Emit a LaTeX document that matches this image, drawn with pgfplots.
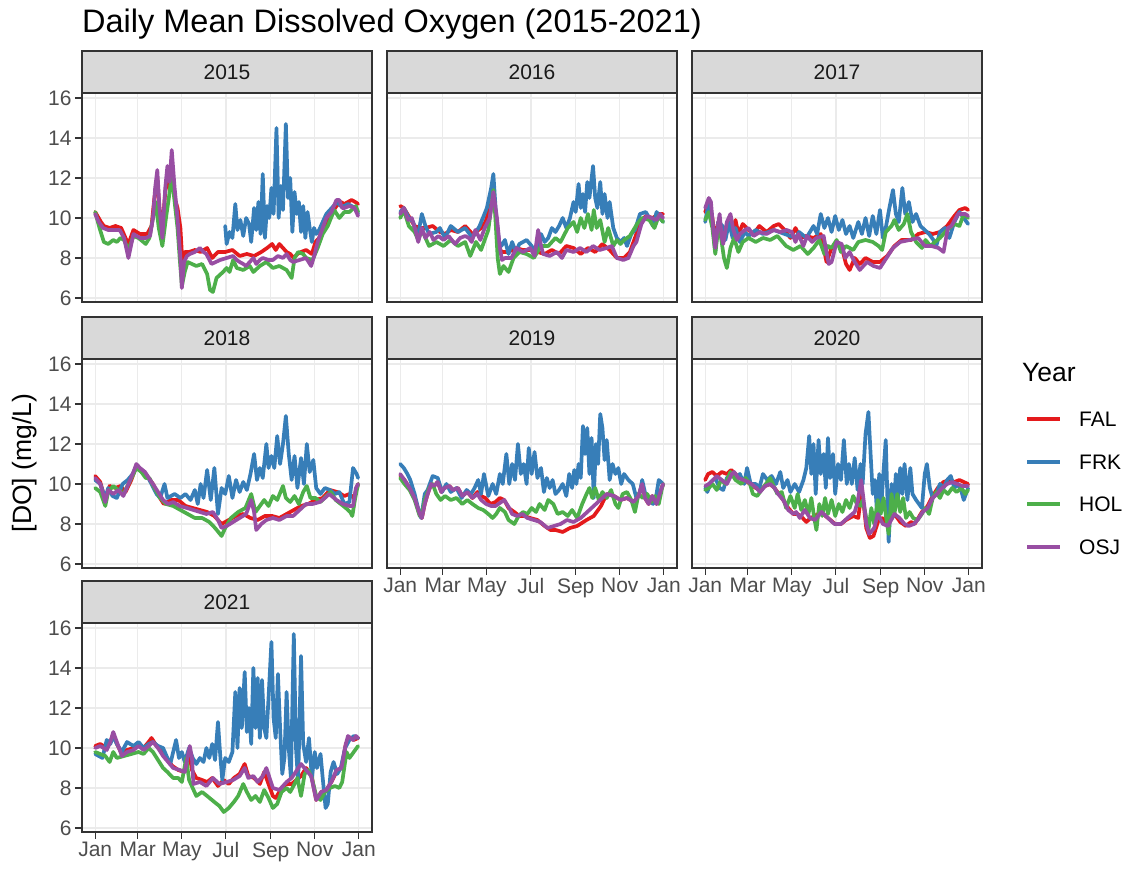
\documentclass[border=0pt]{standalone}
\usepackage{pgfplots}
\pgfplotsset{compat=1.18}
\usepackage{fontspec}
\setmainfont{Liberation Sans}
\definecolor{cFAL}{HTML}{E41A1C}
\definecolor{cFRK}{HTML}{377EB8}
\definecolor{cHOL}{HTML}{4DAF4A}
\definecolor{cOSJ}{HTML}{984EA3}
\definecolor{gtwenty}{HTML}{333333}
\definecolor{gthirty}{HTML}{4D4D4D}
\definecolor{gridg}{HTML}{EBEBEB}
\definecolor{stripg}{HTML}{D9D9D9}
\definecolor{txt}{HTML}{1A1A1A}
\pgfplotsset{
 panel/.style={
  scale only axis, width=290pt, height=209pt,
  xmin=-18.25, xmax=383.25, ymin=5.8, ymax=16.25,
  anchor=north west,
  axis line style={draw=gtwenty, line width=1.1pt},
  grid=major, major grid style={draw=gridg, line width=1.2pt},
  xtick={0,59,120,181,243,304,365}, ytick={6,8,10,12,14,16},
  xtick pos=left, ytick pos=left,
  tick align=outside, major tick length=7pt,
  tick style={draw=gtwenty, line width=1.1pt},
  tick label style={font=\fontsize{21}{21}\selectfont, text=gthirty},
  /pgf/number format/assume math mode=true,
  every axis plot/.append style={line width=3.7pt, line join=round, line cap=round, mark=none},
 },
 noxlab/.style={xticklabels={}, xtick style={draw=none}},
 noylab/.style={yticklabels={}, ytick style={draw=none}},
 xlab/.style={xticklabels={Jan,Mar,May,Jul,Sep,Nov,Jan}},
}
\newcommand{\strip}[3]{%
 \draw[fill=stripg, draw=gtwenty, line width=1.1pt] (#1pt,#2pt) rectangle ++(290pt,42pt);
 \node[font=\fontsize{21}{21}\selectfont, text=txt, inner sep=0] at ([xshift=145pt,yshift=21pt]#1pt,#2pt) {#3};}
\begin{document}
\begin{tikzpicture}[x=1pt,y=1pt]
\useasboundingbox (0,0) rectangle (1128,869);
% ---------------- 2015
\begin{axis}[panel, noxlab, at={(82pt,776pt)}]
\addplot[cFAL] coordinates {(0,10.3)(8,9.8)(12,9.6)(20,9.5)(28,9.6)(36,9.5)(42,9.0)(46,8.7)(53,9.4)(62,9.2)(72,9.2)(78,9.6)(82,11.0)(86,12.0)(89,10.5)(93,9.4)(97,11.3)(100,12.0)(103,11.5)(106,12.5)(110,11.0)(114,10.5)(118,9.5)(121,7.6)(124,8.3)(130,8.3)(138,8.4)(146,8.3)(155,8.5)(162,8.0)(170,8.3)(180,8.3)(190,8.4)(200,8.1)(210,8.2)(220,8.1)(230,8.3)(238,8.5)(245,8.7)(250,8.4)(255,8.7)(260,8.5)(265,8.3)(270,8.2)(275,8.0)(280,8.2)(285,8.3)(292,8.4)(300,8.2)(305,8.8)(310,9.0)(315,9.5)(320,9.8)(327,10.2)(334,10.6)(340,10.8)(345,10.7)(350,10.8)(355,10.9)(360,10.8)(364,10.7)};
\addplot[cFRK] coordinates {(180,9.6)(182,8.7)(186,9.3)(190,9.0)(194,10.7)(197,9.4)(201,9.9)(205,9.1)(209,10.0)(213,9.7)(216,8.8)(220,10.5)(223,9.4)(226,10.8)(229,9.2)(232,12.2)(235,9.0)(238,10.6)(241,10.0)(244,11.5)(247,10.2)(251,14.5)(254,10.0)(257,11.6)(260,10.4)(264,14.7)(267,11.0)(270,12.0)(273,9.3)(276,11.3)(279,10.2)(282,10.8)(285,9.3)(288,10.6)(291,9.0)(294,10.3)(297,9.5)(300,8.8)(303,9.5)(306,9.2)(310,9.4)(315,9.8)(320,10.2)(325,10.4)(330,10.6)(335,10.8)(340,10.6)(345,10.6)(350,10.7)(355,10.6)(360,10.5)(364,10.2)};
\addplot[cHOL] coordinates {(0,10.3)(6,9.5)(12,8.8)(18,8.7)(25,8.9)(30,8.8)(35,9.0)(40,8.9)(46,8.4)(53,9.1)(60,9.0)(70,8.7)(75,9.0)(80,10.0)(84,10.8)(88,9.5)(93,8.6)(98,10.0)(102,11.0)(106,12.2)(110,10.8)(114,9.5)(117,8.0)(120,6.6)(124,7.3)(128,7.8)(134,7.7)(140,7.6)(148,7.7)(155,7.2)(159,6.4)(163,6.3)(168,7.0)(177,7.3)(182,7.5)(186,7.3)(191,7.9)(196,7.5)(205,7.4)(214,7.6)(219,7.3)(228,7.6)(237,7.8)(246,7.5)(255,7.6)(265,7.4)(272,7.0)(276,8.0)(281,8.3)(288,8.2)(292,8.0)(301,7.9)(308,8.5)(315,9.2)(322,9.6)(331,10.4)(338,10.0)(345,10.3)(352,10.3)(361,10.6)(364,10.3)};
\addplot[cOSJ] coordinates {(0,10.2)(5,9.8)(11,9.5)(18,9.4)(25,9.4)(34,9.4)(40,9.0)(46,8.0)(53,9.2)(62,9.0)(70,9.0)(76,9.1)(80,10.0)(83,11.5)(86,12.4)(89,10.5)(93,9.0)(97,11.5)(100,12.6)(103,11.8)(106,13.4)(110,11.5)(114,10.0)(118,8.0)(120,6.5)(123,7.8)(127,8.1)(131,8.2)(138,8.3)(145,8.5)(150,8.3)(154,8.2)(161,7.7)(167,7.8)(173,7.9)(182,8.0)(191,8.1)(196,7.9)(200,7.8)(205,7.7)(209,7.6)(214,7.8)(219,8.0)(223,7.7)(228,7.9)(232,8.0)(240,7.9)(246,7.9)(253,8.1)(260,8.0)(265,8.2)(270,7.9)(274,7.8)(283,7.9)(292,8.0)(299,7.6)(304,8.2)(308,8.8)(315,9.5)(320,10.0)(327,10.3)(334,10.9)(338,10.9)(342,10.5)(345,10.5)(352,10.6)(359,10.5)(364,10.1)};
\end{axis}
% ---------------- 2016
\begin{axis}[panel, noxlab, noylab, at={(387pt,776pt)}]
\addplot[cFAL] coordinates {(0,10.6)(5,10.5)(10,10.2)(20,9.6)(28,9.5)(35,9.5)(45,9.6)(55,9.3)(62,9.2)(70,9.4)(80,9.3)(90,9.6)(95,9.4)(100,9.2)(105,9.3)(112,9.5)(118,9.8)(125,10.6)(129,11.0)(133,10.0)(137,8.6)(140,8.3)(150,8.3)(160,8.5)(170,8.4)(180,8.4)(190,8.3)(200,8.2)(210,8.4)(220,8.2)(230,8.6)(240,8.5)(250,8.2)(260,8.5)(270,8.3)(280,8.7)(290,8.4)(300,8.0)(310,8.0)(318,8.3)(325,9.0)(333,9.8)(340,10.1)(350,10.0)(357,10.2)(364,10.2)};
\addplot[cFRK] coordinates {(0,10.3)(5,10.5)(12,10.0)(18,9.8)(24,9.0)(30,10.2)(35,9.6)(40,9.2)(50,9.3)(55,9.5)(62,9.0)(70,9.6)(80,9.3)(90,9.5)(100,9.0)(110,9.6)(120,10.5)(126,11.5)(129,12.2)(133,10.0)(137,8.8)(140,8.6)(145,8.9)(150,8.2)(155,8.8)(160,8.3)(165,8.7)(170,8.8)(175,8.9)(182,8.6)(188,8.2)(195,9.2)(200,8.8)(205,9.0)(210,9.5)(215,9.3)(220,9.6)(225,10.0)(230,9.5)(235,10.0)(240,10.8)(243,10.3)(247,11.7)(250,10.5)(253,11.2)(256,10.3)(259,11.8)(262,11.0)(267,12.6)(270,11.0)(273,10.5)(277,11.8)(280,10.2)(283,11.2)(287,10.0)(290,10.8)(295,9.5)(300,9.0)(305,8.8)(310,9.0)(314,8.6)(320,9.2)(325,9.4)(332,10.2)(340,10.3)(345,10.0)(350,9.6)(355,10.3)(360,10.0)(364,9.8)};
\addplot[cHOL] coordinates {(0,10.0)(5,10.4)(12,9.6)(20,9.3)(25,8.9)(30,9.4)(35,9.0)(40,8.6)(50,8.8)(60,8.6)(70,8.9)(80,8.6)(90,8.8)(97,8.1)(105,8.8)(112,8.4)(122,9.4)(126,10.5)(129,11.4)(131,10.5)(135,8.0)(138,7.2)(143,7.6)(150,7.3)(157,8.0)(165,8.3)(175,8.2)(185,8.0)(195,8.6)(205,8.6)(215,9.0)(222,8.8)(232,9.5)(240,9.8)(245,9.3)(250,10.0)(255,9.5)(260,10.2)(265,9.4)(268,10.4)(272,9.5)(277,9.9)(283,8.8)(288,9.5)(295,8.6)(300,8.9)(305,8.7)(310,8.9)(318,9.1)(328,9.7)(335,10.0)(345,9.9)(352,9.5)(358,10.1)(364,9.8)};
\addplot[cOSJ] coordinates {(0,10.2)(5,10.5)(11,9.9)(16,10.0)(21,9.4)(25,8.8)(30,9.5)(35,9.0)(41,9.3)(46,8.9)(53,9.1)(60,8.9)(67,9.1)(76,8.7)(83,9.0)(90,9.1)(95,9.0)(99,8.8)(104,9.4)(111,8.9)(117,9.5)(124,10.0)(129,11.3)(134,10.0)(138,8.5)(141,7.9)(145,8.0)(154,8.0)(161,8.5)(170,8.3)(180,8.5)(186,8.1)(191,9.4)(195,8.6)(198,8.2)(207,8.1)(217,8.3)(224,8.0)(230,8.4)(240,8.3)(249,8.5)(258,8.3)(267,8.6)(276,8.4)(286,8.5)(293,8.6)(300,8.0)(309,7.9)(316,8.0)(323,8.6)(327,8.8)(334,9.7)(341,10.1)(348,10.0)(355,9.9)(360,10.2)(364,10.0)};
\end{axis}
% ---------------- 2017
\begin{axis}[panel, noxlab, noylab, at={(692pt,776pt)}]
\addplot[cFAL] coordinates {(0,10.3)(5,10.8)(10,10.0)(14,8.8)(18,9.8)(24,9.3)(30,9.6)(33,9.7)(38,9.3)(42,9.9)(46,9.2)(52,9.7)(60,9.4)(67,9.2)(75,9.6)(85,9.3)(95,9.6)(102,9.7)(110,9.4)(118,9.0)(125,9.5)(132,9.0)(140,9.1)(150,9.0)(160,9.2)(168,7.8)(175,8.5)(182,8.8)(190,8.4)(195,7.7)(200,7.4)(207,8.0)(214,7.7)(222,8.0)(232,7.8)(242,7.8)(252,8.1)(262,8.6)(272,8.9)(285,8.9)(295,9.2)(305,9.3)(315,9.2)(325,9.3)(335,9.6)(345,10.1)(352,10.4)(360,10.5)(364,10.4)};
\addplot[cFRK] coordinates {(0,9.8)(5,10.8)(9,10.2)(14,8.3)(18,9.8)(24,9.6)(28,8.9)(33,9.8)(38,9.0)(42,9.5)(48,8.8)(55,9.3)(60,9.1)(70,9.4)(80,9.2)(95,9.4)(110,9.2)(125,9.0)(130,9.3)(140,9.0)(150,9.6)(155,9.2)(160,10.2)(165,9.5)(170,10.0)(175,9.3)(180,10.1)(185,9.4)(190,9.9)(195,9.2)(200,9.6)(205,9.0)(212,9.8)(217,9.2)(222,10.0)(227,9.1)(232,10.1)(237,9.2)(242,10.4)(246,9.0)(250,9.5)(255,10.5)(260,11.4)(264,10.2)(268,9.8)(273,11.5)(277,10.2)(282,10.8)(287,9.8)(292,10.2)(298,9.6)(304,9.4)(310,9.2)(316,8.9)(320,8.6)(325,9.3)(332,9.5)(338,9.0)(345,9.8)(352,10.3)(358,10.0)(364,9.7)};
\addplot[cHOL] coordinates {(0,9.9)(5,10.3)(10,9.5)(14,8.2)(18,9.5)(22,9.0)(26,8.0)(30,7.5)(35,8.5)(40,9.0)(46,8.3)(52,8.8)(60,9.0)(70,8.8)(80,9.0)(90,8.9)(100,9.1)(112,8.6)(122,8.4)(132,8.6)(142,8.2)(150,8.5)(158,8.9)(165,8.2)(170,8.6)(175,8.5)(182,8.9)(188,8.3)(195,8.6)(205,8.4)(212,8.8)(222,8.9)(232,8.8)(240,8.6)(245,8.4)(250,9.3)(258,9.6)(262,9.9)(268,9.4)(275,9.7)(280,10.2)(285,9.3)(292,8.8)(300,8.5)(305,8.9)(312,8.6)(318,8.8)(325,9.0)(335,9.4)(345,9.7)(352,9.6)(358,10.2)(364,10.0)};
\addplot[cOSJ] coordinates {(0,10.5)(5,11.0)(8,10.8)(11,9.5)(14,8.5)(17,9.5)(20,10.2)(23,9.0)(25,8.7)(30,9.8)(35,10.2)(39,9.4)(44,8.9)(48,9.2)(55,9.4)(60,9.5)(67,9.1)(76,9.3)(85,9.2)(95,9.4)(104,9.3)(113,9.4)(120,9.3)(125,8.8)(129,9.2)(136,8.6)(141,9.1)(148,8.8)(154,9.0)(164,9.1)(171,7.7)(175,7.8)(182,8.8)(189,8.7)(194,8.0)(200,8.3)(207,7.8)(214,7.4)(224,7.8)(233,7.6)(242,7.5)(251,8.0)(260,8.5)(270,8.8)(283,8.9)(295,9.0)(304,8.6)(313,8.6)(323,8.5)(330,8.3)(336,9.5)(341,9.6)(350,10.2)(360,10.2)(364,10.1)};
\end{axis}
% ---------------- 2018
\begin{axis}[panel, noxlab, at={(82pt,510pt)}]
\addplot[cFAL] coordinates {(0,10.4)(7,10.1)(14,9.2)(20,9.9)(28,9.8)(35,9.9)(42,9.6)(50,10.2)(57,10.9)(65,10.6)(72,10.4)(80,10.0)(88,9.4)(95,9.0)(105,9.2)(115,9.2)(125,8.9)(135,8.8)(145,8.7)(155,8.6)(165,8.4)(175,8.0)(185,8.2)(195,8.4)(205,8.5)(215,8.3)(225,8.2)(235,8.4)(245,8.4)(255,8.3)(265,8.5)(275,8.7)(285,8.9)(295,9.0)(305,9.2)(315,9.3)(325,9.7)(335,9.6)(345,9.4)(352,9.5)(358,9.3)(364,10.0)};
\addplot[cFRK] coordinates {(0,10.2)(7,10.0)(14,9.3)(18,9.8)(24,9.4)(30,9.3)(38,10.0)(45,10.2)(52,10.5)(57,10.9)(65,10.6)(72,10.4)(78,10.0)(85,9.5)(90,9.3)(96,10.0)(100,9.3)(110,9.5)(118,9.3)(125,9.5)(132,9.2)(138,9.7)(142,9.0)(146,10.0)(150,9.3)(155,10.7)(160,9.2)(165,10.8)(170,8.5)(175,9.8)(180,9.5)(185,10.4)(190,9.3)(195,10.2)(200,9.6)(205,10.1)(210,9.7)(215,10.5)(220,11.5)(224,10.2)(228,10.8)(232,10.3)(237,12.0)(240,10.8)(244,11.4)(248,10.8)(252,12.4)(256,11.0)(260,12.0)(264,13.4)(268,11.5)(272,10.2)(276,11.4)(280,9.8)(285,11.3)(289,10.0)(293,12.0)(297,10.6)(302,11.2)(306,9.8)(312,9.5)(318,9.8)(325,9.7)(332,9.5)(338,9.6)(345,9.0)(352,9.1)(357,10.8)(362,10.5)(364,10.3)};
\addplot[cHOL] coordinates {(0,9.8)(7,9.6)(14,8.9)(18,9.6)(25,9.9)(32,9.7)(39,9.5)(46,10.0)(53,10.5)(57,10.8)(64,10.6)(70,10.3)(75,10.3)(82,9.8)(90,9.3)(98,9.0)(108,8.9)(118,8.7)(128,8.5)(138,8.3)(148,8.3)(158,8.1)(166,7.8)(175,7.4)(180,7.8)(188,8.3)(198,8.6)(208,8.8)(216,9.5)(222,8.6)(228,8.9)(234,9.2)(240,8.9)(246,9.4)(252,9.2)(260,9.9)(264,9.3)(270,9.1)(276,9.4)(282,9.0)(288,9.6)(293,9.9)(298,9.3)(305,9.3)(312,9.1)(320,9.4)(326,9.6)(333,9.2)(340,9.0)(347,8.8)(353,8.6)(356,8.4)(360,9.3)(364,10.0)};
\addplot[cOSJ] coordinates {(0,10.3)(7,10.0)(14,9.1)(18,9.7)(25,9.5)(32,9.7)(39,9.4)(46,10.0)(53,10.6)(57,11.0)(62,10.8)(69,10.6)(76,10.2)(80,10.0)(87,9.6)(94,9.2)(101,9.0)(108,9.1)(117,8.9)(127,8.8)(136,8.7)(145,8.6)(154,8.5)(163,8.6)(170,8.2)(175,7.8)(182,7.9)(191,8.1)(200,8.3)(209,8.5)(216,9.2)(220,8.6)(223,7.7)(230,8.0)(237,8.2)(246,8.3)(255,8.2)(265,8.4)(274,8.4)(283,8.7)(292,9.0)(301,9.0)(311,9.1)(318,9.3)(324,9.5)(334,9.2)(343,9.0)(352,8.9)(357,8.9)(361,9.8)(364,10.0)};
\end{axis}
% ---------------- 2019
\begin{axis}[panel, xlab, noylab, at={(387pt,510pt)}]
\addplot[cFAL] coordinates {(0,10.4)(6,10.2)(13,9.8)(20,9.3)(27,8.5)(30,8.3)(34,9.0)(38,9.5)(43,10.0)(47,9.9)(52,10.1)(57,9.6)(61,9.8)(68,9.9)(73,9.7)(80,9.8)(86,9.4)(93,9.6)(100,9.3)(107,9.6)(112,9.4)(118,9.3)(125,9.0)(132,9.1)(138,9.3)(144,9.2)(150,8.8)(158,8.6)(165,8.4)(172,8.4)(180,8.3)(190,8.2)(200,7.9)(208,7.7)(215,7.7)(225,7.6)(235,7.8)(245,7.9)(258,8.2)(268,8.4)(278,8.9)(286,9.5)(296,9.4)(305,9.2)(314,9.3)(323,9.1)(330,9.4)(335,10.0)(339,9.3)(344,9.0)(349,9.4)(355,9.0)(362,9.8)(364,10.0)};
\addplot[cFRK] coordinates {(0,11.0)(5,10.8)(10,10.5)(14,10.2)(20,9.5)(26,8.6)(29,8.3)(34,9.5)(38,9.7)(45,10.4)(52,10.3)(58,9.6)(64,10.0)(70,9.6)(78,9.8)(85,9.3)(92,9.7)(98,9.5)(103,9.8)(108,10.2)(112,9.5)(116,10.5)(122,9.4)(128,10.0)(133,9.5)(138,10.5)(142,10.0)(147,11.5)(151,10.0)(155,11.0)(159,10.2)(163,12.0)(167,10.5)(171,11.0)(175,10.0)(178,11.8)(182,10.5)(186,11.6)(190,10.3)(195,10.8)(199,9.6)(203,10.3)(207,9.8)(211,10.2)(215,9.5)(220,9.7)(225,10.0)(230,9.4)(234,10.5)(238,9.8)(241,10.7)(244,10.0)(247,11.0)(250,10.3)(253,12.9)(256,11.5)(259,12.8)(262,10.5)(265,12.3)(268,9.3)(271,12.0)(274,11.0)(277,13.5)(280,12.8)(283,11.2)(286,12.2)(290,10.2)(294,11.0)(298,10.5)(302,10.8)(306,10.0)(310,10.5)(316,10.2)(322,10.0)(327,9.3)(332,9.6)(335,10.2)(340,9.4)(345,9.2)(350,9.0)(354,9.3)(358,10.2)(364,10.0)};
\addplot[cHOL] coordinates {(0,10.3)(6,10.0)(13,9.7)(20,9.2)(27,8.4)(30,8.5)(34,9.2)(40,9.8)(45,10.0)(50,9.5)(56,9.2)(62,9.4)(70,9.2)(78,9.3)(86,9.0)(93,9.2)(100,9.0)(108,8.8)(115,8.7)(122,8.5)(128,8.3)(133,8.5)(138,8.8)(145,8.6)(150,8.2)(158,8.0)(164,8.4)(170,8.6)(176,8.5)(182,8.8)(188,8.6)(193,9.0)(200,8.7)(205,9.2)(212,9.0)(218,8.5)(225,8.6)(232,8.4)(238,8.7)(245,8.3)(252,9.0)(258,9.5)(262,9.8)(266,9.3)(270,9.8)(275,9.2)(280,9.6)(286,9.3)(292,9.7)(298,9.0)(302,8.8)(308,9.5)(314,9.6)(320,9.2)(325,8.6)(330,9.5)(336,9.3)(342,9.5)(348,9.1)(353,9.4)(358,9.0)(362,9.7)(364,10.0)};
\addplot[cOSJ] coordinates {(0,10.5)(6,10.2)(13,9.8)(20,9.3)(27,8.5)(30,8.3)(34,9.0)(38,9.5)(43,10.0)(47,9.9)(52,10.1)(57,9.6)(61,9.8)(68,9.9)(73,9.7)(80,9.8)(86,9.4)(93,9.6)(100,9.3)(107,9.5)(112,9.2)(119,9.0)(126,8.9)(132,8.9)(144,9.2)(151,8.8)(155,8.5)(162,8.4)(169,8.5)(176,8.3)(185,8.2)(194,8.1)(204,7.8)(213,7.9)(222,8.0)(231,8.2)(240,8.1)(250,8.3)(259,8.6)(268,8.9)(277,9.2)(286,9.5)(296,9.4)(305,9.2)(314,9.3)(323,9.1)(330,9.4)(335,10.0)(339,9.3)(344,9.0)(349,9.4)(355,9.0)(362,9.8)(364,10.0)};
\end{axis}
% ---------------- 2020
\begin{axis}[panel, xlab, noylab, at={(692pt,510pt)}]
\addplot[cFAL] coordinates {(0,10.2)(4,10.5)(10,10.6)(16,10.4)(23,10.6)(30,10.5)(36,10.7)(42,10.5)(48,10.3)(55,10.2)(62,10.0)(70,9.8)(76,9.7)(83,9.9)(90,10.0)(96,9.8)(102,9.5)(108,9.2)(115,8.8)(122,8.5)(128,8.5)(135,8.3)(140,8.1)(146,8.3)(152,8.4)(160,8.6)(170,8.3)(180,8.0)(188,8.0)(195,8.2)(205,8.4)(212,8.3)(216,9.5)(220,8.8)(223,7.8)(228,7.3)(233,7.4)(240,8.2)(246,8.3)(252,7.9)(262,8.5)(270,8.1)(278,7.9)(285,8.1)(290,8.0)(295,8.3)(300,8.6)(308,8.9)(315,9.4)(322,9.8)(330,10.1)(338,10.2)(345,10.1)(352,10.2)(358,10.1)(364,10.0)};
\addplot[cFRK] coordinates {(0,9.8)(3,9.6)(8,10.1)(14,10.3)(20,9.8)(25,9.7)(30,10.3)(36,10.5)(42,10.3)(48,10.5)(54,10.0)(58,10.8)(63,10.0)(70,10.0)(75,9.8)(80,10.5)(86,10.2)(92,10.4)(98,10.0)(104,10.6)(108,9.8)(114,10.2)(118,9.6)(124,10.0)(130,9.6)(136,10.2)(140,10.8)(144,12.4)(147,10.5)(150,12.0)(153,9.5)(157,12.2)(160,10.5)(164,11.5)(167,9.8)(170,12.3)(173,10.3)(177,11.5)(180,9.5)(184,11.0)(188,10.2)(192,12.2)(196,10.0)(199,11.0)(203,10.0)(207,11.3)(211,9.7)(215,11.0)(218,10.0)(222,12.5)(226,13.6)(229,11.5)(232,9.5)(235,10.2)(238,8.5)(241,10.5)(244,9.0)(247,10.7)(250,12.2)(254,7.1)(258,10.0)(261,8.8)(264,10.5)(267,9.3)(270,10.8)(273,9.5)(276,11.0)(280,9.2)(284,10.8)(287,9.5)(292,9.2)(296,9.0)(300,8.8)(304,10.5)(307,11.0)(311,9.8)(315,9.3)(320,9.5)(325,10.0)(330,9.8)(335,10.2)(340,10.4)(345,9.8)(350,10.0)(355,9.6)(358,9.2)(362,9.6)(364,9.8)};
\addplot[cHOL] coordinates {(0,9.7)(5,9.8)(10,10.0)(16,9.7)(22,10.2)(28,10.0)(35,10.6)(42,10.2)(50,10.0)(56,10.3)(62,10.0)(66,9.5)(72,9.4)(78,9.7)(84,10.0)(90,10.3)(96,9.8)(100,9.5)(106,9.6)(112,8.8)(118,9.4)(124,8.8)(128,9.5)(133,8.7)(138,9.2)(143,8.5)(147,9.3)(151,8.3)(154,7.7)(158,9.0)(162,8.4)(166,9.3)(170,8.5)(175,9.2)(180,8.4)(185,9.0)(190,8.6)(195,9.2)(200,8.8)(205,9.4)(210,9.0)(215,8.9)(218,9.2)(222,8.5)(226,7.7)(230,8.8)(234,8.0)(239,9.2)(243,8.5)(247,9.3)(251,8.2)(254,7.5)(258,9.5)(262,8.5)(266,9.5)(270,8.6)(274,9.3)(278,8.3)(283,8.6)(288,8.3)(294,8.2)(300,8.5)(305,8.8)(310,8.5)(315,9.3)(320,9.6)(325,9.3)(330,9.7)(336,9.5)(342,9.8)(348,9.6)(355,9.8)(360,9.5)(364,9.7)};
\addplot[cOSJ] coordinates {(0,9.9)(5,10.0)(11,10.2)(16,10.4)(23,10.2)(30,10.0)(37,10.5)(40,10.6)(46,10.3)(53,10.2)(60,10.1)(64,10.0)(71,9.8)(76,9.6)(83,9.9)(90,10.0)(96,9.8)(101,9.5)(108,9.2)(115,8.7)(122,8.5)(126,8.6)(131,8.3)(138,8.7)(145,8.3)(152,8.2)(161,8.6)(170,8.3)(179,8.0)(188,8.0)(197,8.3)(207,8.6)(211,9.1)(216,10.2)(220,9.0)(223,8.0)(227,7.5)(234,7.8)(239,8.5)(246,8.0)(253,7.9)(262,8.5)(269,8.3)(276,8.0)(282,7.9)(289,8.0)(294,8.2)(301,8.6)(308,8.8)(315,9.3)(321,9.5)(328,9.8)(335,10.0)(342,10.1)(349,10.0)(356,9.9)(364,9.9)};
\end{axis}
% ---------------- 2021
\begin{axis}[panel, xlab, at={(82pt,246pt)}]
\addplot[cFAL] coordinates {(0,10.1)(7,10.2)(16,10.0)(21,10.3)(25,10.7)(30,10.2)(37,9.7)(44,9.9)(53,10.0)(60,10.2)(67,10.0)(74,10.3)(78,10.5)(85,10.1)(92,9.8)(100,9.4)(107,9.1)(115,8.9)(123,8.8)(130,9.8)(134,8.9)(140,8.5)(148,8.4)(155,8.3)(162,8.5)(170,8.1)(178,8.4)(185,8.2)(192,8.5)(200,8.7)(207,9.2)(212,8.6)(220,8.5)(228,8.2)(234,8.8)(240,8.2)(246,7.6)(250,7.5)(258,8.0)(265,8.2)(272,8.2)(285,8.6)(292,9.0)(299,8.7)(306,7.4)(313,7.8)(320,7.9)(327,8.3)(334,8.8)(341,9.0)(347,10.2)(352,10.5)(358,10.4)(364,10.5)};
\addplot[cFRK] coordinates {(0,9.7)(5,9.6)(10,9.5)(16,10.4)(21,10.2)(25,10.6)(30,10.2)(37,9.8)(44,10.3)(53,10.1)(60,10.3)(67,10.0)(74,10.2)(80,10.3)(87,10.1)(94,10.0)(100,9.5)(104,9.2)(108,9.8)(112,10.4)(116,9.5)(120,9.8)(124,9.3)(130,10.0)(135,9.5)(140,9.2)(145,9.5)(150,9.3)(154,10.0)(158,9.5)(162,10.2)(166,9.4)(170,11.3)(173,9.7)(176,8.4)(180,9.5)(185,9.3)(190,9.8)(194,12.8)(197,10.0)(200,13.0)(203,11.0)(207,13.8)(210,10.8)(213,12.0)(216,10.2)(219,14.0)(222,11.0)(225,13.5)(228,10.5)(231,13.4)(234,11.0)(237,10.5)(240,12.5)(244,15.3)(247,11.5)(250,10.5)(253,13.7)(256,11.0)(259,8.7)(262,9.5)(265,12.8)(268,10.0)(271,8.5)(275,15.7)(278,10.0)(281,8.3)(285,14.6)(288,10.2)(292,9.3)(296,10.5)(300,8.5)(304,9.8)(307,9.0)(312,9.7)(315,8.5)(319,7.0)(322,7.2)(326,8.8)(330,9.3)(335,8.7)(340,9.0)(346,10.0)(352,10.4)(358,10.6)(364,10.5)};
\addplot[cHOL] coordinates {(0,9.8)(7,9.7)(14,9.6)(20,9.3)(25,9.8)(30,9.5)(40,9.6)(50,9.7)(60,9.8)(67,9.7)(74,10.0)(80,9.8)(87,9.4)(94,9.0)(100,8.8)(108,8.5)(115,8.5)(120,8.3)(126,9.5)(130,8.4)(135,8.0)(140,7.6)(148,7.8)(155,7.6)(165,7.3)(172,7.1)(178,6.8)(185,7.0)(192,7.3)(198,7.6)(205,8.2)(210,7.8)(216,7.4)(222,7.6)(228,7.3)(234,7.9)(240,7.5)(246,7.0)(252,7.2)(258,7.8)(265,8.0)(270,7.8)(276,8.2)(280,8.5)(285,7.6)(290,8.7)(295,8.9)(300,8.5)(306,7.6)(312,7.4)(318,7.8)(325,8.0)(332,8.1)(338,8.0)(342,8.3)(348,9.8)(352,9.5)(358,9.8)(364,10.1)};
\addplot[cOSJ] coordinates {(0,10.0)(7,10.1)(16,9.9)(21,10.3)(25,10.8)(30,10.3)(37,9.6)(44,9.8)(53,9.9)(60,10.1)(67,9.9)(74,10.1)(80,10.3)(87,10.0)(94,9.6)(101,9.3)(108,9.0)(117,8.9)(124,8.8)(131,10.1)(134,9.5)(136,8.2)(145,8.3)(154,8.1)(163,8.5)(172,8.2)(182,8.3)(191,8.4)(200,8.6)(207,9.0)(212,8.5)(219,8.6)(225,8.3)(232,8.6)(237,9.0)(246,8.0)(255,7.9)(265,8.3)(272,8.5)(285,9.2)(292,8.9)(299,8.6)(306,7.4)(313,7.8)(320,7.9)(327,8.3)(334,8.9)(341,9.0)(347,10.2)(350,10.6)(357,10.4)(361,10.6)(364,10.5)};
\end{axis}
% ---------------- strips
\strip{82}{776}{2015}
\strip{387}{776}{2016}
\strip{692}{776}{2017}
\strip{82}{510}{2018}
\strip{387}{510}{2019}
\strip{692}{510}{2020}
\strip{82}{246}{2021}
% ---------------- title and axis label
\node[anchor=base west, inner sep=0, font=\fontsize{32.5}{32.5}\selectfont] at (82pt,836pt) {Daily Mean Dissolved Oxygen (2015-2021)};
\node[rotate=90, inner sep=0, font=\fontsize{26.5}{26.5}\selectfont] at (25pt,406pt) {[DO] (mg/L)};
% ---------------- legend
\node[anchor=base west, inner sep=0, font=\fontsize{26.5}{26.5}\selectfont] at (1022pt,487pt) {Year};
\draw[cFAL, line width=4.5pt] (1027pt,450pt) -- (1060pt,450pt);
\draw[cFRK, line width=4.5pt] (1027pt,407pt) -- (1060pt,407pt);
\draw[cHOL, line width=4.5pt] (1027pt,365pt) -- (1060pt,365pt);
\draw[cOSJ, line width=4.5pt] (1027pt,322pt) -- (1060pt,322pt);
\node[anchor=west, inner sep=0, font=\fontsize{21}{21}\selectfont] at (1079pt,450pt) {FAL};
\node[anchor=west, inner sep=0, font=\fontsize{21}{21}\selectfont] at (1079pt,407pt) {FRK};
\node[anchor=west, inner sep=0, font=\fontsize{21}{21}\selectfont] at (1079pt,365pt) {HOL};
\node[anchor=west, inner sep=0, font=\fontsize{21}{21}\selectfont] at (1079pt,322pt) {OSJ};
\end{tikzpicture}
\end{document}
